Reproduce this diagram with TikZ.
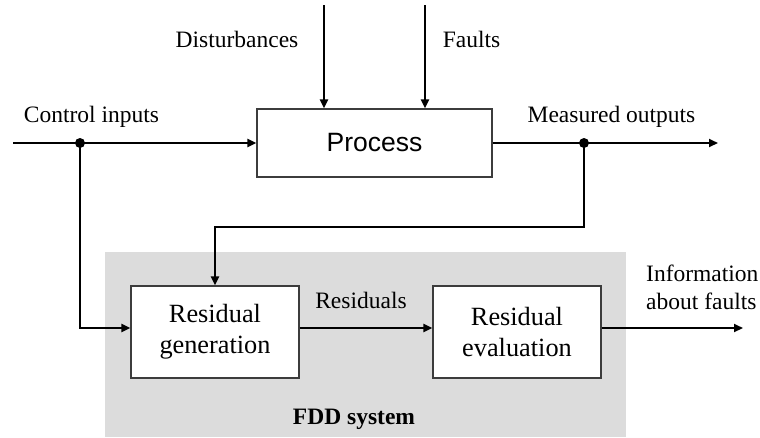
\documentclass[tikz,border=0pt]{standalone}
\usepackage{fontspec}
\setmainfont{Liberation Serif}
\newfontfamily\procfont{Liberation Sans}
\usetikzlibrary{arrows.meta}
\definecolor{fddgray}{RGB}{220,220,220}
\definecolor{edgegray}{RGB}{60,60,60}

\begin{document}
\begin{tikzpicture}[x=1pt,y=-1pt,
  lbl/.style={font=\fontsize{23.5}{28}\selectfont, inner sep=0pt},
  block/.style={draw=edgegray, line width=1.2pt, fill=white, inner sep=0pt,
    align=center, font=\fontsize{26.3}{31}\selectfont},
  sig/.style={line width=2pt, -{Triangle[length=9pt,width=8pt]}},
  wire/.style={line width=2pt},
  junction/.style={circle, fill=black, inner sep=0pt, minimum size=10pt}]
\useasboundingbox (0,0) rectangle (760,437);

% FDD system background
\fill[fddgray] (105,252) rectangle (626,437);

% blocks
\node[block, minimum width=235, minimum height=68,
  font=\procfont\fontsize{26.5}{30}\selectfont] (proc) at (374.5,143) {Process};
\node[block, minimum width=168, minimum height=92] (rg) at (215,332) {Residual\\generation};
\node[block, minimum width=168, minimum height=92] (re) at (517,332) {Residual\\evaluation};

% labels
\node[lbl, anchor=base] (tdist) at (237,47) {Disturbances};
\node[lbl, anchor=base] (tfault) at (471.5,47) {Faults};
\node[lbl, anchor=base] (tcin) at (91.5,122) {Control inputs};
\node[lbl, anchor=base] (tmout) at (611.5,122) {Measured outputs};
\node[lbl, anchor=base] (tres) at (361,308) {Residuals};
\node[lbl, anchor=base west] (tinfoA) at (646,281) {Information};
\node[lbl, anchor=base west] (tinfoB) at (646,309) {about faults};
\node[lbl, anchor=base, font=\bfseries\fontsize{23.5}{28}\selectfont] (tfdd) at (354,424) {FDD system};

% connector points
\coordinate (cin) at (13,143);
\coordinate (jin) at (80,143);
\coordinate (jout) at (584,143);
\coordinate (mout) at (718,143);
\coordinate (dtop) at (324,5);
\coordinate (ftop) at (425,5);
\coordinate (fb) at (215,227);
\coordinate (lvl) at (0,328);
\coordinate (info) at (743,328);

% signal lines
\draw[wire] (cin) -- (jin);
\draw[sig] (jin) -- (proc.west);
\draw[wire] (proc.east) -- (jout);
\draw[sig] (jout) -- (mout);
\draw[sig] (dtop) -- (dtop |- proc.north);
\draw[sig] (ftop) -- (ftop |- proc.north);
\draw[sig] (jout) |- (fb) -- (rg.north);
\draw[sig] (jin) |- (rg.west |- lvl);
\draw[sig] (rg.east |- lvl) -- (re.west |- lvl);
\draw[sig] (re.east |- lvl) -- (info);

% branch points
\node[junction] (jinDot) at (jin) {};
\node[junction] (joutDot) at (jout) {};
\end{tikzpicture}
\end{document}
